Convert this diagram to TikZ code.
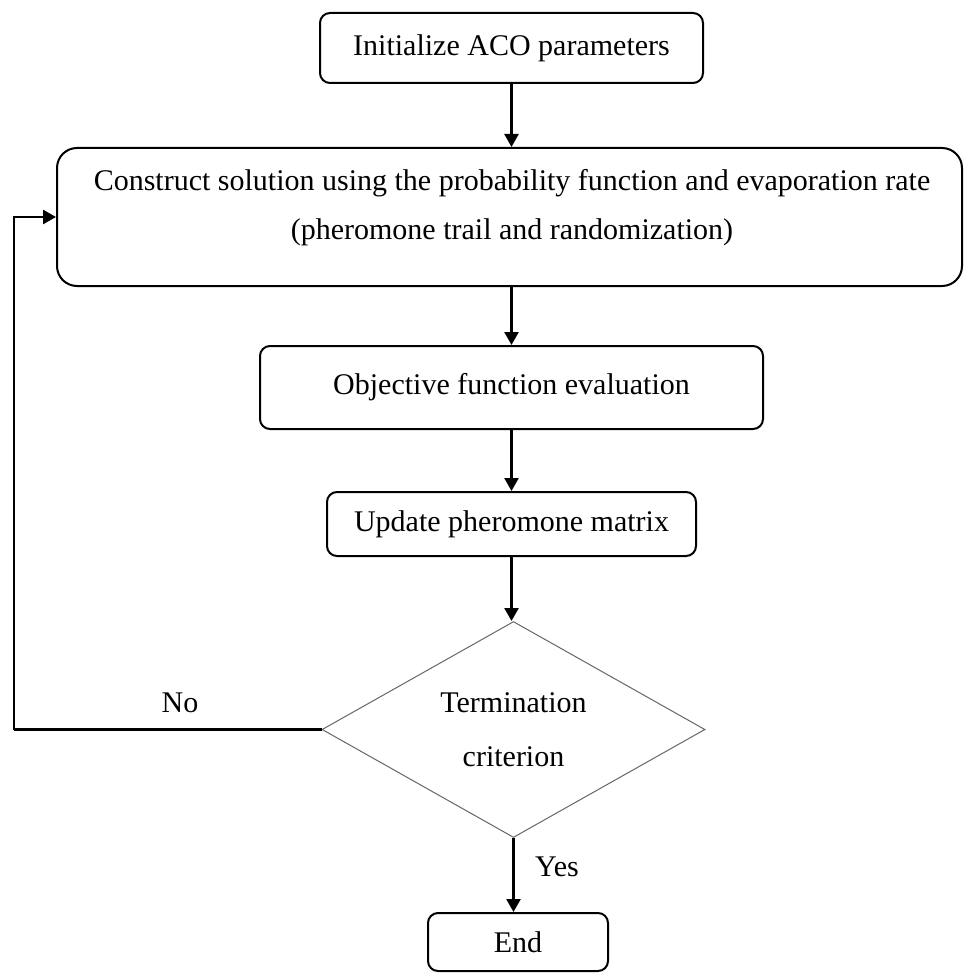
\documentclass[tikz,border=0pt]{standalone}
\usepackage{fontspec}
\setmainfont{Liberation Serif}
\usetikzlibrary{arrows.meta,shapes.geometric}

\tikzset{
  stepbox/.style={draw=black, line width=1pt, rounded corners=5pt, inner sep=0pt,
    font=\fontsize{15}{18}\selectfont},
  bigbox/.style={draw=black, line width=1pt, rounded corners=10pt, inner sep=0pt},
  decision/.style={diamond, draw=black!60, line width=0.5pt, inner sep=0pt, aspect=1.77,
    align=center, font=\fontsize{15}{27}\selectfont},
  txt/.style={inner sep=0pt, font=\fontsize{15}{18}\selectfont},
  flow/.style={line width=1.25pt, -{Triangle[length=6.5pt,width=7pt]}},
  plain/.style={line width=1.25pt},
}

\begin{document}
\begin{tikzpicture}[x=0.5pt, y=-0.5pt]
  \useasboundingbox (0,0) rectangle (963,973);

  % process steps
  \node[stepbox, minimum width=191.5pt, minimum height=35pt] (init) at (511.5,48) {Initialize ACO parameters};
  \node[bigbox, minimum width=452.5pt, minimum height=69pt] (cons) at (509.5,217) {};
  \node[txt, align=center, font=\fontsize{15}{24.5}\selectfont] (constext) at (512,208)
    {Construct solution using the probability function and evaporation rate\\(pheromone trail and randomization)};
  \node[stepbox, minimum width=251.5pt, minimum height=41.5pt] (obj) at (511.5,387.5) {Objective function evaluation};
  \node[stepbox, minimum width=184.5pt, minimum height=32pt] (upd) at (511.5,524) {Update pheromone matrix};
  \node[decision, minimum width=191.5pt, minimum height=108pt] (term) at (513.5,729.5) {Termination\\criterion};
  \node[stepbox, minimum width=90pt, minimum height=29pt] (end) at (518,942) {End};

  % labels of the decision branches
  \node[txt] (nolab) at (180,703) {No};
  \node[txt] (yeslab) at (557,867) {Yes};

  % forward flow
  \draw[flow] (init.south) -- (init.south |- cons.north);
  \draw[flow] (cons.south -| init.south) -- (obj.north);
  \draw[flow] (obj.south) -- (upd.north);
  \draw[flow] (upd.south) -- (upd.south |- term.north);
  \draw[flow] (term.south) -- (term.south |- end.north);

  % loop back when the criterion is not met
  \coordinate (back) at (14,729.5);
  \draw[plain] (term.west) -- (back);
  \draw[flow] (back) |- (cons.west);
\end{tikzpicture}
\end{document}
